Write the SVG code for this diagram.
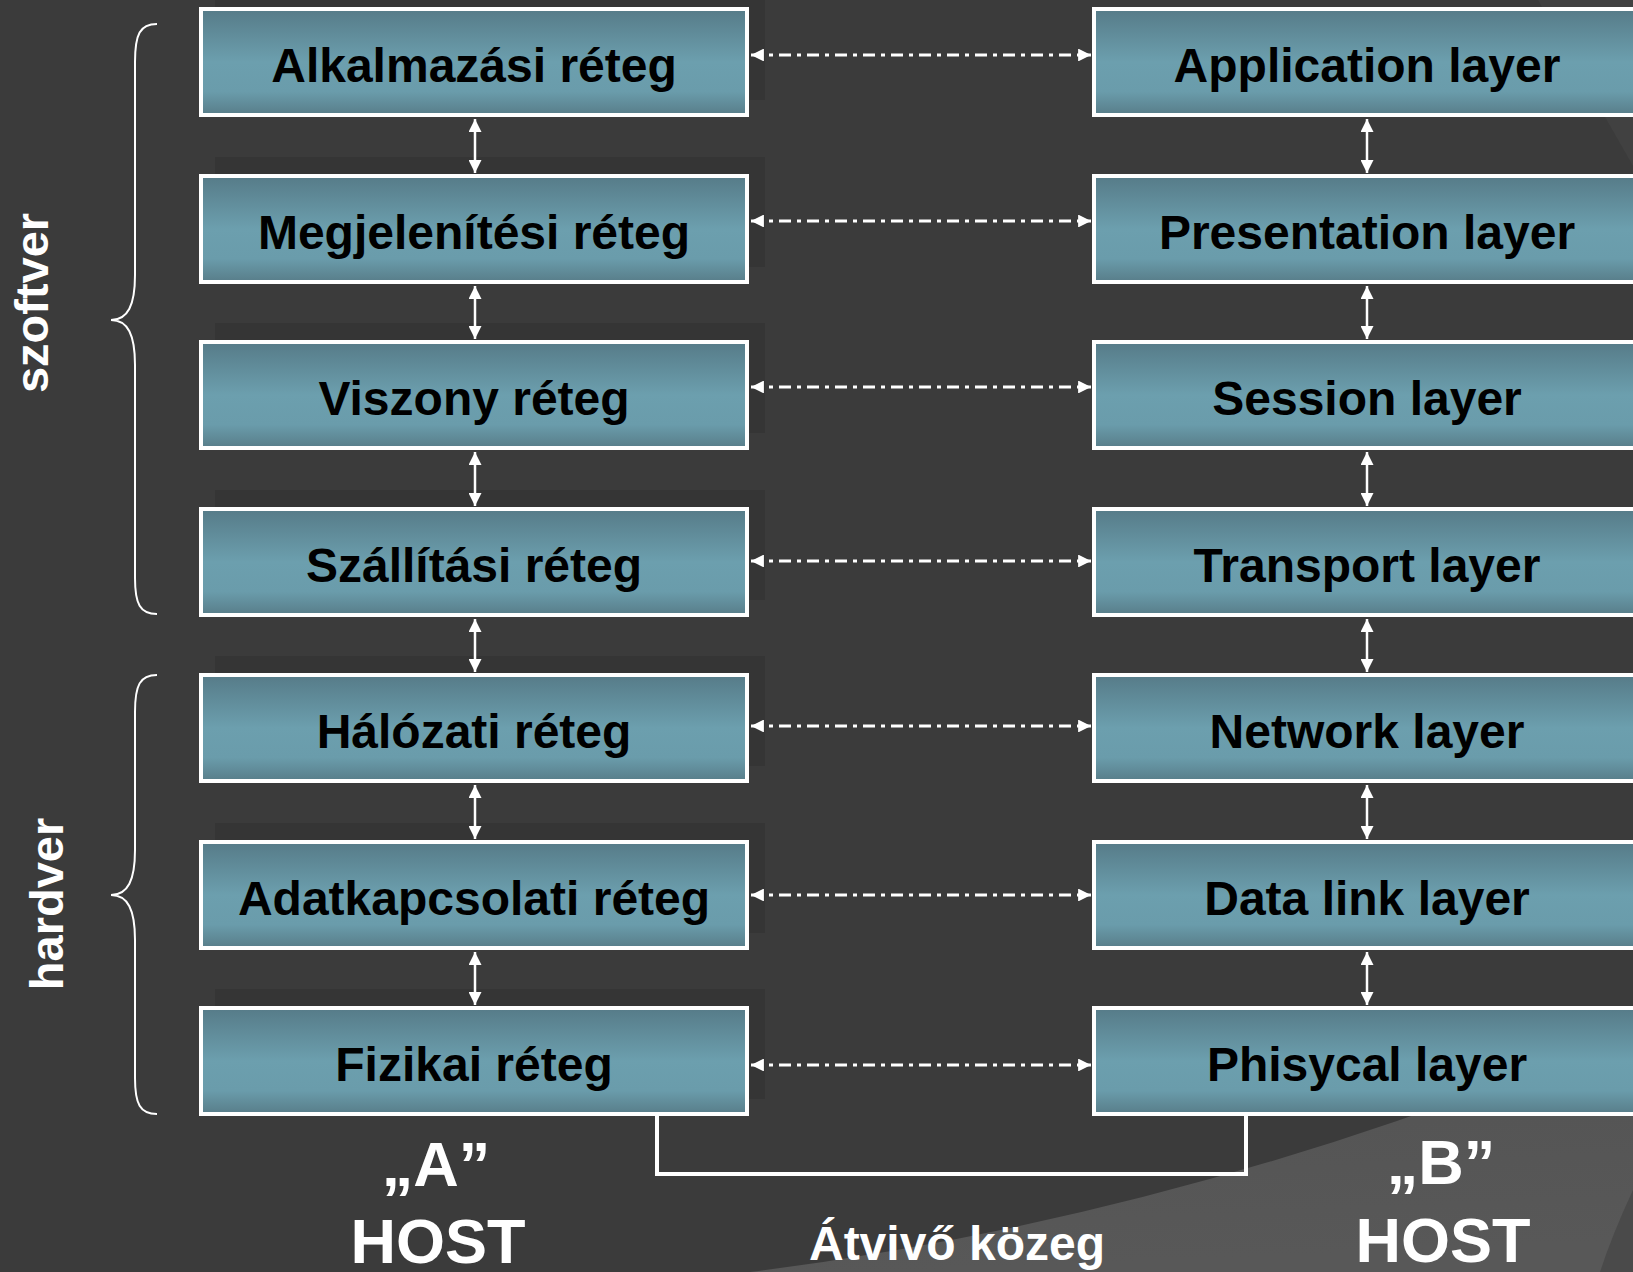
<svg xmlns="http://www.w3.org/2000/svg" width="1633" height="1272" viewBox="0 0 1633 1272">
<style>
.box{fill:url(#boxg);stroke:#fff;stroke-width:4}
.shadow{fill:#353535}
.lbl{font-family:"Liberation Sans",Arial,sans-serif;font-weight:bold;font-size:48px;fill:#000;text-anchor:middle}
.wt{font-family:"Liberation Sans",Arial,sans-serif;font-weight:bold;fill:#fff;text-anchor:middle}
.v{stroke:#fff;stroke-width:2.5;fill:none;marker-start:url(#ah);marker-end:url(#ah)}
.h{stroke:#fff;stroke-width:3;fill:none;stroke-dasharray:12 6 4 6;marker-start:url(#ah2);marker-end:url(#ah2)}
.brace{stroke:#fff;stroke-width:2;fill:none}
</style>
<defs>
<linearGradient id="boxg" x1="0" y1="0" x2="0" y2="1">
<stop offset="0" stop-color="#567b88"/>
<stop offset="0.5" stop-color="#6c9fae"/>
<stop offset="0.78" stop-color="#6a9cab"/>
<stop offset="1" stop-color="#587d89"/>
</linearGradient>
<linearGradient id="bgl" x1="0" y1="0" x2="0.15" y2="1">
<stop offset="0" stop-color="#4a4a4a"/>
<stop offset="0.3" stop-color="#545454"/>
<stop offset="1" stop-color="#585858"/>
</linearGradient>
<marker id="ah" viewBox="0 0 10 10" refX="10" refY="5" markerWidth="6" markerHeight="5.2" markerUnits="strokeWidth" orient="auto-start-reverse">
<path d="M0,0 L10,5 L0,10 Z" fill="#fff"/>
</marker>
<marker id="ah2" viewBox="0 0 10 10" refX="10" refY="5" markerWidth="5" markerHeight="4.3" markerUnits="strokeWidth" orient="auto-start-reverse">
<path d="M0,0 L10,5 L0,10 Z" fill="#fff"/>
</marker>
</defs>

<rect x="0" y="0" width="1633" height="1272" fill="#3b3b3b"/>
<polygon points="1538,0 1633,0 1633,166" fill="#414141"/>
<path d="M750,1272 Q1200,1215 1633,1030 V1272 Z" fill="url(#bgl)"/>
<path d="M1633,1190 Q1612,1235 1600,1272 H1633 Z" fill="#4a4a4a"/>

<g id="shadows">
<rect class="shadow" x="215" y="-10" width="550" height="110"/>
<rect class="shadow" x="215" y="157" width="550" height="110"/>
<rect class="shadow" x="215" y="323" width="550" height="110"/>
<rect class="shadow" x="215" y="490" width="550" height="110"/>
<rect class="shadow" x="215" y="656" width="550" height="110"/>
<rect class="shadow" x="215" y="823" width="550" height="110"/>
<rect class="shadow" x="215" y="989" width="550" height="110"/>
</g>

<g id="connectors">
<line class="v" x1="475" y1="119" x2="475" y2="173"/>
<line class="v" x1="475" y1="286" x2="475" y2="339"/>
<line class="v" x1="475" y1="452" x2="475" y2="506"/>
<line class="v" x1="475" y1="619" x2="475" y2="672"/>
<line class="v" x1="475" y1="785" x2="475" y2="839"/>
<line class="v" x1="475" y1="952" x2="475" y2="1005"/>
<line class="v" x1="1367" y1="119" x2="1367" y2="173"/>
<line class="v" x1="1367" y1="286" x2="1367" y2="339"/>
<line class="v" x1="1367" y1="452" x2="1367" y2="506"/>
<line class="v" x1="1367" y1="619" x2="1367" y2="672"/>
<line class="v" x1="1367" y1="785" x2="1367" y2="839"/>
<line class="v" x1="1367" y1="952" x2="1367" y2="1005"/>
<line class="h" x1="751" y1="55" x2="1091" y2="55"/>
<line class="h" x1="751" y1="221" x2="1091" y2="221"/>
<line class="h" x1="751" y1="387" x2="1091" y2="387"/>
<line class="h" x1="751" y1="561" x2="1091" y2="561"/>
<line class="h" x1="751" y1="726" x2="1091" y2="726"/>
<line class="h" x1="751" y1="895" x2="1091" y2="895"/>
<line class="h" x1="751" y1="1065" x2="1091" y2="1065"/>
<path d="M657,1116 V1174 H1246 V1116" stroke="#fff" stroke-width="4" fill="none"/>
</g>

<g id="a1"><rect class="box" x="201" y="9" width="546" height="106"/><text class="lbl" x="474" y="82">Alkalmazási réteg</text></g>
<g id="a2"><rect class="box" x="201" y="176" width="546" height="106"/><text class="lbl" x="474" y="249">Megjelenítési réteg</text></g>
<g id="a3"><rect class="box" x="201" y="342" width="546" height="106"/><text class="lbl" x="474" y="415">Viszony réteg</text></g>
<g id="a4"><rect class="box" x="201" y="509" width="546" height="106"/><text class="lbl" x="474" y="582">Szállítási réteg</text></g>
<g id="a5"><rect class="box" x="201" y="675" width="546" height="106"/><text class="lbl" x="474" y="748">Hálózati réteg</text></g>
<g id="a6"><rect class="box" x="201" y="842" width="546" height="106"/><text class="lbl" x="474" y="915">Adatkapcsolati réteg</text></g>
<g id="a7"><rect class="box" x="201" y="1008" width="546" height="106"/><text class="lbl" x="474" y="1081">Fizikai réteg</text></g>

<g id="b1"><rect class="box" x="1094" y="9" width="546" height="106"/><text class="lbl" x="1367" y="82">Application layer</text></g>
<g id="b2"><rect class="box" x="1094" y="176" width="546" height="106"/><text class="lbl" x="1367" y="249">Presentation layer</text></g>
<g id="b3"><rect class="box" x="1094" y="342" width="546" height="106"/><text class="lbl" x="1367" y="415">Session layer</text></g>
<g id="b4"><rect class="box" x="1094" y="509" width="546" height="106"/><text class="lbl" x="1367" y="582">Transport layer</text></g>
<g id="b5"><rect class="box" x="1094" y="675" width="546" height="106"/><text class="lbl" x="1367" y="748">Network layer</text></g>
<g id="b6"><rect class="box" x="1094" y="842" width="546" height="106"/><text class="lbl" x="1367" y="915">Data link layer</text></g>
<g id="b7"><rect class="box" x="1094" y="1008" width="546" height="106"/><text class="lbl" x="1367" y="1081">Phisycal layer</text></g>

<g id="szoftver">
<path class="brace" d="M157,24 C140,24 135,34 135,62 L135,275 C135,305 128,320 111,320 C128,320 135,335 135,365 L135,578 C135,604 140,614 157,614"/>
<text class="wt" font-size="47" transform="translate(48,303) rotate(-90)">szoftver</text>
</g>
<g id="hardver">
<path class="brace" d="M157,675 C140,675 135,685 135,712 L135,850 C135,880 128,895 111,895 C128,895 135,910 135,940 L135,1078 C135,1104 140,1114 157,1114"/>
<text class="wt" font-size="47" transform="translate(63,904) rotate(-90)">hardver</text>
</g>

<g id="hostA">
<text class="wt" font-size="63" x="436" y="1186">„A”</text>
<text class="wt" font-size="63" x="438" y="1263">HOST</text>
</g>
<g id="hostB">
<text class="wt" font-size="63" x="1441" y="1184">„B”</text>
<text class="wt" font-size="63" x="1443" y="1262">HOST</text>
</g>
<g id="medium">
<text class="wt" font-size="48" x="957" y="1260">Átvivő közeg</text>
</g>
</svg>
